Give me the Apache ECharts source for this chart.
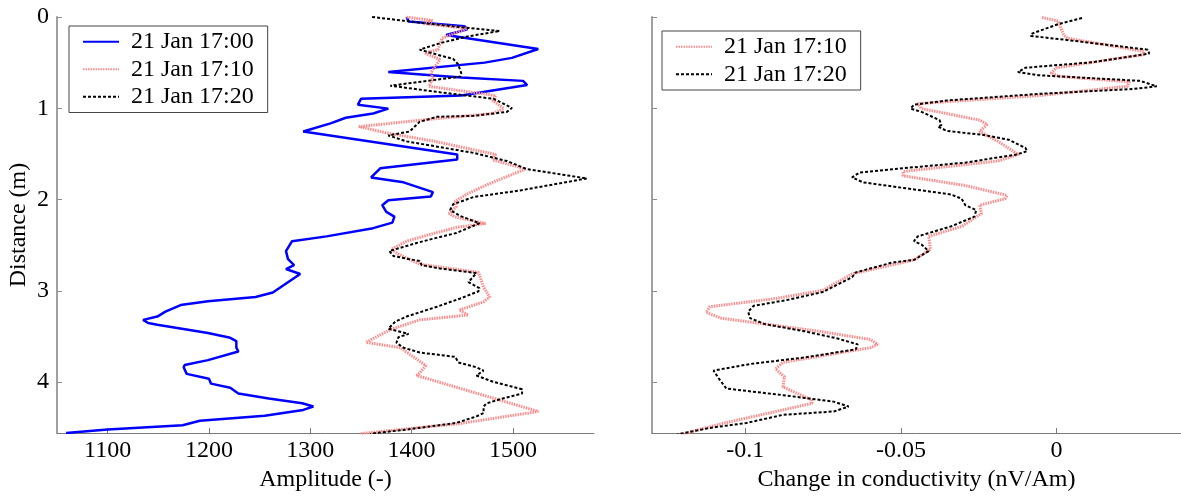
<!DOCTYPE html>
<html>
<head>
<meta charset="utf-8">
<script src="https://cdn.jsdelivr.net/npm/echarts@6/dist/echarts.min.js"></script>
<style>
  html, body { margin: 0; padding: 0; background: #fff; }
  #chart { width: 1181px; height: 497px; }
</style>
</head>
<body>
<div id="chart"></div>
<script>
// Amplitude profiles (left panel): depth in m, amplitude (-)
const ampDepth1700 = [0, 0.05, 0.10, 0.136, 0.197, 0.351, 0.448, 0.50, 0.603, 0.663, 0.70, 0.746, 0.861, 0.897, 0.961, 1.004, 1.058, 1.104, 1.166, 1.255, 1.507, 1.561, 1.658, 1.758, 1.812, 1.919, 1.966, 2.009, 2.062, 2.135, 2.188, 2.253, 2.314, 2.404, 2.457, 2.565, 2.654, 2.719, 2.762, 2.816, 3.02, 3.068, 3.114, 3.157, 3.229, 3.283, 3.319, 3.354, 3.372, 3.462, 3.516, 3.552, 3.623, 3.666, 3.76, 3.814, 3.838, 3.911, 3.965, 4.018, 4.064, 4.126, 4.18, 4.233, 4.269, 4.306, 4.37, 4.424, 4.474, 4.52, 4.56];
const amp1700 = [1395, 1397, 1452, 1455, 1434, 1525, 1499, 1472, 1377, 1449, 1510, 1514, 1449, 1350, 1347, 1377, 1362, 1335, 1320, 1293, 1445, 1445, 1369, 1360, 1392, 1421, 1419, 1377, 1371, 1375, 1383, 1381, 1362, 1316, 1282, 1276, 1278, 1284, 1276, 1290, 1263, 1246, 1199, 1172, 1157, 1149, 1135, 1140, 1149, 1199, 1221, 1227, 1227, 1229, 1199, 1176, 1175, 1178, 1200, 1202, 1221, 1229, 1259, 1292, 1303, 1293, 1255, 1191, 1174, 1100, 1059];

const ampDepth1710 = [0, 0.04, 0.07, 0.125, 0.233, 0.358, 0.394, 0.466, 0.609, 0.681, 0.76, 0.861, 0.915, 1.004, 1.058, 1.119, 1.201, 1.27, 1.363, 1.507, 1.567, 1.632, 1.668, 1.83, 1.938, 2.02, 2.081, 2.153, 2.188, 2.263, 2.304, 2.377, 2.457, 2.547, 2.6, 2.709, 2.799, 2.96, 3.068, 3.122, 3.211, 3.265, 3.319, 3.426, 3.565, 3.624, 3.695, 3.82, 3.90, 3.929, 4.323, 4.458, 4.513, 4.567];
const amp1710 = [1395, 1421, 1411, 1455, 1430, 1426, 1413, 1428, 1419, 1421, 1417, 1483, 1480, 1491, 1480, 1419, 1348, 1375, 1423, 1483, 1480, 1502, 1512, 1476, 1455, 1443, 1444, 1437, 1442, 1473, 1445, 1420, 1395, 1380, 1387, 1408, 1466, 1471, 1477, 1471, 1447, 1456, 1408, 1379, 1355, 1389, 1398, 1414, 1408, 1405, 1525, 1446, 1395, 1349];

const ampDepth1720 = [0, 0.071, 0.114, 0.154, 0.215, 0.287, 0.358, 0.412, 0.459, 0.52, 0.617, 0.653, 0.753, 0.825, 0.897, 0.997, 1.04, 1.083, 1.094, 1.148, 1.255, 1.298, 1.363, 1.489, 1.578, 1.668, 1.769, 1.901, 1.973, 2.052, 2.116, 2.181, 2.26, 2.368, 2.41, 2.476, 2.565, 2.619, 2.655, 2.673, 2.72, 2.756, 2.806, 2.906, 2.971, 3.006, 3.085, 3.175, 3.283, 3.337, 3.416, 3.473, 3.509, 3.57, 3.624, 3.677, 3.724, 3.785, 3.839, 3.875, 3.929, 4.0, 4.08, 4.126, 4.18, 4.234, 4.269, 4.341, 4.377, 4.449, 4.521, 4.567];
const amp1720 = [1361, 1415, 1451, 1487, 1454, 1428, 1408, 1425, 1441, 1446, 1449, 1448, 1379, 1428, 1481, 1499, 1494, 1461, 1425, 1408, 1398, 1377, 1395, 1461, 1494, 1514, 1573, 1507, 1461, 1441, 1438, 1448, 1467, 1444, 1428, 1405, 1378, 1382, 1398, 1408, 1410, 1428, 1464, 1456, 1467, 1466, 1448, 1425, 1395, 1384, 1377, 1397, 1387, 1385, 1392, 1408, 1443, 1446, 1464, 1471, 1464, 1481, 1509, 1509, 1490, 1474, 1471, 1471, 1464, 1444, 1395, 1359];

// Conductivity change profiles (right panel): depth in m, nV/Am
const condDepth1710 = [0.006, 0.043, 0.197, 0.233, 0.377, 0.412, 0.556, 0.617, 0.652, 0.71, 0.76, 0.861, 0.95, 1.004, 1.13, 1.177, 1.255, 1.363, 1.507, 1.578, 1.693, 1.74, 1.847, 1.955, 1.991, 2.063, 2.153, 2.296, 2.404, 2.547, 2.662, 2.816, 2.996, 3.085, 3.175, 3.236, 3.30, 3.445, 3.534, 3.588, 3.624, 3.785, 3.857, 3.946, 4.054, 4.198, 4.234, 4.306, 4.449, 4.575];
const cond1710 = [-0.0047, 0.0005, 0.0023, 0.0035, 0.0281, 0.0281, -0.0001, -0.0018, 0.0011, 0.0234, 0.0228, -0.0059, -0.0446, -0.0434, -0.0247, -0.0223, -0.0247, -0.0188, -0.0123, -0.0188, -0.0493, -0.0493, -0.0293, -0.0159, -0.0165, -0.0247, -0.0241, -0.0305, -0.0411, -0.0405, -0.0458, -0.0657, -0.0751, -0.0903, -0.1114, -0.1126, -0.1079, -0.0762, -0.0598, -0.0575, -0.0598, -0.0879, -0.0903, -0.0874, -0.0879, -0.0786, -0.0786, -0.0879, -0.1067, -0.1208];

const condDepth1720 = [0.01, 0.079, 0.179, 0.208, 0.243, 0.358, 0.401, 0.495, 0.556, 0.603, 0.638, 0.70, 0.76, 0.789, 0.843, 0.915, 0.961, 1.004, 1.04, 1.13, 1.184, 1.201, 1.249, 1.292, 1.346, 1.435, 1.47, 1.507, 1.596, 1.668, 1.704, 1.758, 1.812, 1.884, 1.944, 1.991, 2.063, 2.116, 2.188, 2.296, 2.404, 2.457, 2.493, 2.565, 2.662, 2.691, 2.799, 2.852, 3.014, 3.103, 3.165, 3.229, 3.30, 3.365, 3.445, 3.523, 3.588, 3.642, 3.731, 3.803, 3.875, 3.964, 4.072, 4.144, 4.215, 4.269, 4.323, 4.36, 4.449, 4.503, 4.575];
const cond1720 = [0.0082, 0.0005, -0.0077, -0.0083, 0.0011, 0.0293, 0.0298, 0.0117, -0.010, -0.0124, -0.0059, 0.0269, 0.0322, 0.0246, -0.0059, -0.0352, -0.0458, -0.0469, -0.0434, -0.0376, -0.037, -0.0381, -0.0352, -0.0235, -0.0153, -0.010, -0.0094, -0.0129, -0.0293, -0.0528, -0.0633, -0.0657, -0.0622, -0.0469, -0.034, -0.0305, -0.0293, -0.0258, -0.0264, -0.034, -0.0446, -0.0458, -0.0434, -0.0411, -0.0458, -0.0528, -0.0645, -0.0657, -0.0751, -0.0868, -0.0973, -0.0991, -0.0985, -0.0938, -0.0809, -0.0704, -0.0639, -0.0645, -0.0809, -0.0985, -0.1102, -0.1085, -0.1061, -0.0879, -0.0716, -0.0668, -0.0716, -0.0879, -0.0997, -0.1114, -0.1219];

// Tick positions
const depthTicks = [0, 1, 2, 3, 4];
const ampTicks = [1100, 1200, 1300, 1400, 1500];
const condTicks = [-0.1, -0.05, 0];

const names = ['21 Jan 17:00', '21 Jan 17:10', '21 Jan 17:20'];

const FONT = 'Liberation Serif';
const FS = 24;

function pairs(values, depths) {
  return values.map((v, i) => [v, depths[i]]);
}

const styles = {
  '21 Jan 17:00': { color: '#0000ff', width: 2.5, type: 'solid' },
  '21 Jan 17:10': { color: '#ff8c8c', width: 3, type: [1.5, 1] },
  '21 Jan 17:20': { color: '#000000', width: 2, type: [3, 2] }
};

function lineSeries(name, data, idx) {
  const s = styles[name];
  return {
    name: name,
    type: 'line',
    xAxisIndex: idx,
    yAxisIndex: idx,
    data: data,
    symbol: 'none',
    showSymbol: false,
    clip: true,
    animation: false,
    itemStyle: { color: s.color },
    lineStyle: { color: s.color, width: s.width, type: s.type }
  };
}

function depthAxis(idx, showLabels) {
  return {
    type: 'value',
    gridIndex: idx,
    position: 'left',
    inverse: true,
    min: 0,
    max: 4.56,
    name: showLabels ? 'Distance (m)' : '',
    nameLocation: 'middle',
    nameRotate: 90,
    nameGap: 26,
    nameTextStyle: { fontFamily: FONT, fontSize: FS, color: '#000' },
    axisLine: { show: true, onZero: false, lineStyle: { color: '#a0a0a0', width: 2 } },
    axisTick: { show: true, inside: true, length: 5, customValues: depthTicks, lineStyle: { color: '#8c8c8c' } },
    axisLabel: { show: showLabels, customValues: depthTicks, margin: 8, fontFamily: FONT, fontSize: FS, color: '#000' },
    splitLine: { show: false }
  };
}

function valueAxis(idx, min, max, ticks, name) {
  return {
    type: 'value',
    gridIndex: idx,
    position: 'bottom',
    min: min,
    max: max,
    name: name,
    nameLocation: 'middle',
    nameGap: 27,
    nameTextStyle: { fontFamily: FONT, fontSize: FS, color: '#000' },
    axisLine: { show: true, onZero: false, lineStyle: { color: '#7a7a7a', width: 1 } },
    axisTick: { show: true, inside: true, length: 5, customValues: ticks, lineStyle: { color: '#7a7a7a' } },
    axisLabel: { customValues: ticks, margin: 6, fontFamily: FONT, fontSize: FS, color: '#000',
                 formatter: v => String(v) },
    splitLine: { show: false }
  };
}

function legendBox(left, top, data) {
  return {
    orient: 'vertical',
    left: left,
    top: top,
    data: data,
    backgroundColor: '#fff',
    borderColor: '#444',
    borderWidth: 1,
    borderRadius: 0,
    padding: [2, 14, 2, 13],
    itemGap: 0,
    itemWidth: 36,
    itemHeight: 12,
    selectedMode: false,
    itemStyle: { opacity: 0, borderWidth: 0 },
    textStyle: { fontFamily: FONT, fontSize: FS, color: '#000', lineHeight: 27.5, padding: [0, 0, 0, 7] }
  };
}

const chart = echarts.init(document.getElementById('chart'), null, { renderer: 'canvas' });

chart.setOption({
  animation: false,
  backgroundColor: '#fff',
  textStyle: { fontFamily: FONT },
  grid: [
    { left: 57, top: 17, width: 537, height: 423.5 },
    { left: 652, top: 17, width: 537, height: 423.5 }
  ],
  legend: [
    legendBox(69, 26, names),
    legendBox(662, 31, [names[1], names[2]])
  ],
  xAxis: [
    valueAxis(0, 1050, 1580, ampTicks, 'Amplitude (-)'),
    valueAxis(1, -0.13, 0.04, condTicks, 'Change in conductivity (nV/Am)')
  ],
  yAxis: [depthAxis(0, true), depthAxis(1, false)],
  series: [
    lineSeries(names[0], pairs(amp1700, ampDepth1700), 0),
    lineSeries(names[1], pairs(amp1710, ampDepth1710), 0),
    lineSeries(names[2], pairs(amp1720, ampDepth1720), 0),
    lineSeries(names[1], pairs(cond1710, condDepth1710), 1),
    lineSeries(names[2], pairs(cond1720, condDepth1720), 1)
  ]
});
</script>
</body>
</html>
